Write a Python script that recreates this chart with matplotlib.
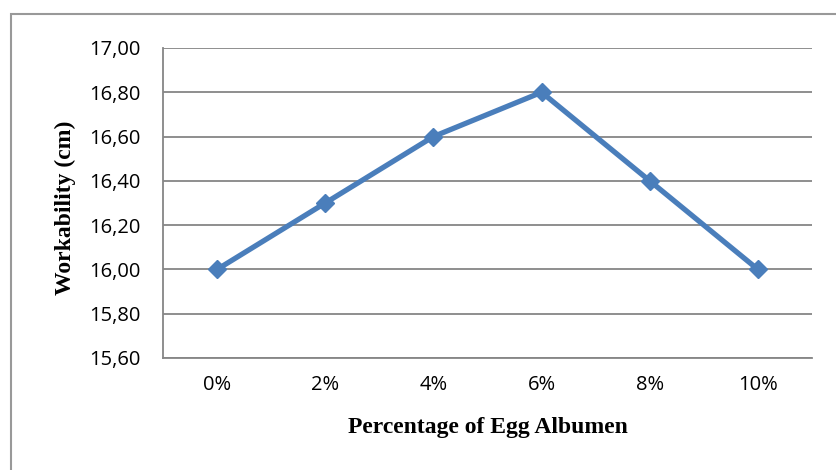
import matplotlib.pyplot as plt
from matplotlib.patches import Rectangle

categories = ["0%", "2%", "4%", "6%", "8%", "10%"]
workability = [16.00, 16.30, 16.60, 16.80, 16.40, 16.00]
yticks = [15.60, 15.80, 16.00, 16.20, 16.40, 16.60, 16.80, 17.00]

W, H = 837, 470
fig = plt.figure(figsize=(W / 100, H / 100), dpi=100)

# outer chart frame (runs off the right and bottom edges)
fig.patches.append(Rectangle((11 / W, -0.1), 1.0, (H - 14) / H + 0.1,
                             transform=fig.transFigure, fill=False,
                             edgecolor="#999999", linewidth=1.5))

ax = fig.add_axes([163 / W, (H - 358) / H, (812 - 163) / W, (358 - 48) / H])
x = list(range(len(categories)))
ax.plot(x, workability, color="#4a7ebb", linewidth=3.8, marker="D",
        markersize=9.5, zorder=3)

ax.set_xlim(-0.5, len(categories) - 0.5)
ax.set_ylim(15.60, 17.00)
ax.set_xticks(x)
ax.set_xticklabels(categories, fontfamily="Open Sans", fontsize=14.5)
ax.set_yticks(yticks)
ax.set_yticklabels([f"{v:.2f}".replace(".", ",") for v in yticks],
                   fontfamily="Open Sans", fontsize=14.5)
ax.tick_params(length=0)
ax.tick_params(axis="y", pad=16)
ax.tick_params(axis="x", pad=12)
ax.grid(axis="y", color="#868686", linewidth=1.3)
ax.set_axisbelow(True)
for side in ["top", "right"]:
    ax.spines[side].set_visible(False)
for side in ["left", "bottom"]:
    ax.spines[side].set_color("#868686")
    ax.spines[side].set_linewidth(1.3)

fig.text(65 / W, 1 - 208 / H, "Workability (cm)", rotation=90,
         ha="center", va="center", fontfamily="Liberation Serif",
         fontweight="bold", fontsize=17)
fig.text(488 / W, 1 - 427 / H, "Percentage of Egg Albumen",
         ha="center", va="center", fontfamily="Liberation Serif",
         fontweight="bold", fontsize=17)

fig.savefig("out.png", dpi=100)
